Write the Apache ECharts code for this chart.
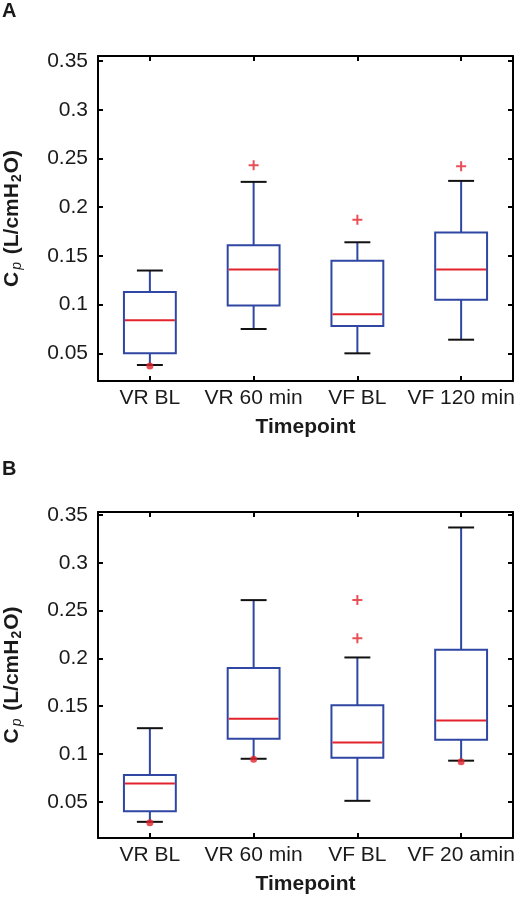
<!DOCTYPE html>
<html>
<head>
<meta charset="utf-8">
<script src="https://cdn.jsdelivr.net/npm/echarts@6/dist/echarts.min.js"></script>
<style>
html,body{margin:0;padding:0;background:#fff;}
#chart{width:519px;height:900px;}
</style>
</head>
<body>
<div id="chart"></div>
<script>
// ---- data ----
var categoriesA = ['VR BL', 'VR 60 min', 'VF BL', 'VF 120 min'];
var categoriesB = ['VR BL', 'VR 60 min', 'VF BL', 'VF 20 amin'];
var yTicks = [0.05, 0.1, 0.15, 0.2, 0.25, 0.3, 0.35];

// panel A box statistics (lower whisker, Q1, median, Q3, upper whisker)
var lowA  = [0.038, 0.075, 0.050, 0.064];
var q1A   = [0.050, 0.099, 0.078, 0.105];
var medA  = [0.084, 0.136, 0.090, 0.136];
var q3A   = [0.113, 0.161, 0.145, 0.174];
var highA = [0.135, 0.226, 0.164, 0.227];
var outliersA = [[1, 0.243], [2, 0.187], [3, 0.242]];
var dotsA = [[0, 0.037]];

// panel B box statistics
var lowB  = [0.029, 0.095, 0.051, 0.093];
var q1B   = [0.040, 0.116, 0.096, 0.115];
var medB  = [0.069, 0.137, 0.112, 0.135];
var q3B   = [0.078, 0.190, 0.151, 0.209];
var highB = [0.127, 0.261, 0.201, 0.337];
var outliersB = [[2, 0.261], [2, 0.221]];
var dotsB = [[0, 0.028], [1, 0.0945], [3, 0.092]];

// ---- styles ----
var FONT = 'Liberation Sans, Arial, sans-serif';
var BLUE = '#2f47a2';
var RED = '#e3232c';
var BLACK = '#111111';
var TXT = '#1a1a1a';

function boxRows(low, q1, med, q3, high) {
  return low.map(function (v, i) { return [i, low[i], q1[i], med[i], q3[i], high[i]]; });
}

function renderBox(params, api) {
  var x = api.value(0);
  var pLow = api.coord([x, api.value(1)]);
  var pQ1 = api.coord([x, api.value(2)]);
  var pMed = api.coord([x, api.value(3)]);
  var pQ3 = api.coord([x, api.value(4)]);
  var pHigh = api.coord([x, api.value(5)]);
  var band = api.size([1, 0])[0];
  var bw = band * 0.5, cw = band * 0.25;
  var cx = pMed[0];
  return {
    type: 'group',
    children: [
      {type: 'line', shape: {x1: cx, y1: pQ3[1], x2: cx, y2: pHigh[1]}, style: {stroke: BLUE, lineWidth: 2}},
      {type: 'line', shape: {x1: cx, y1: pLow[1], x2: cx, y2: pQ1[1]}, style: {stroke: BLUE, lineWidth: 2}},
      {type: 'line', shape: {x1: cx - cw / 2, y1: pHigh[1], x2: cx + cw / 2, y2: pHigh[1]}, style: {stroke: BLACK, lineWidth: 2}},
      {type: 'line', shape: {x1: cx - cw / 2, y1: pLow[1], x2: cx + cw / 2, y2: pLow[1]}, style: {stroke: BLACK, lineWidth: 2}},
      {type: 'rect', shape: {x: cx - bw / 2, y: pQ3[1], width: bw, height: pQ1[1] - pQ3[1]}, style: {fill: '#fff', stroke: BLUE, lineWidth: 2}},
      {type: 'line', shape: {x1: cx - bw / 2 + 1, y1: pMed[1], x2: cx + bw / 2 - 1, y2: pMed[1]}, style: {stroke: RED, lineWidth: 2}}
    ]
  };
}

var PLUS = 'path://M4,0h2v4h4v2h-4v4h-2v-4h-4v-2h4z';

function xAxes(cats, gi) {
  var common = {
    gridIndex: gi, type: 'category', data: cats,
    axisLine: {show: true, lineStyle: {color: '#000', width: 2}},
    axisTick: {show: true, inside: true, alignWithLabel: true, interval: 0, length: 5, lineStyle: {color: '#000', width: 2}},
    splitLine: {show: false}
  };
  var bottom = Object.assign({}, common, {
    position: 'bottom',
    axisLabel: {interval: 0, fontSize: 21, color: TXT, margin: 7, fontFamily: FONT},
    name: 'Timepoint', nameLocation: 'middle', nameGap: 36,
    nameTextStyle: {fontSize: 21, fontWeight: 'bold', color: TXT, fontFamily: FONT}
  });
  var top = Object.assign({}, common, {position: 'top', axisLabel: {show: false}});
  return [bottom, top];
}

function yAxes(gi, mn, mx) {
  var common = {
    gridIndex: gi, type: 'value', min: mn, max: mx,
    splitLine: {show: false},
    axisLine: {show: true, lineStyle: {color: '#000', width: 2}},
    axisTick: {show: true, inside: true, length: 5, customValues: yTicks, lineStyle: {color: '#000', width: 2}}
  };
  var left = Object.assign({}, common, {
    position: 'left',
    axisLabel: {customValues: yTicks, fontSize: 21, color: TXT, margin: 10, fontFamily: FONT},
    name: '{c|C}{p|p}{n| (L/cmH}{s|2}{n|O)}',
    nameLocation: 'middle', nameRotate: 90, nameGap: 74,
    nameTextStyle: {
      color: TXT, fontFamily: FONT,
      rich: {
        c: {fontSize: 21, fontWeight: 'bold', color: TXT, fontFamily: FONT},
        p: {fontSize: 14, fontStyle: 'italic', color: TXT, fontFamily: FONT, padding: [10, 2, 0, 2]},
        n: {fontSize: 21, fontWeight: 'bold', color: TXT, fontFamily: FONT},
        s: {fontSize: 14, fontWeight: 'bold', color: TXT, fontFamily: FONT, padding: [10, 1, 0, 1]}
      }
    }
  });
  var right = Object.assign({}, common, {position: 'right', axisLabel: {show: false}});
  return [left, right];
}

var chart = echarts.init(document.getElementById('chart'), null, {renderer: 'canvas'});
var xa = xAxes(categoriesA, 0), xb = xAxes(categoriesB, 1);
var ya = yAxes(0, 0.0216, 0.3552), yb = yAxes(1, 0.0121, 0.3532);

chart.setOption({
  animation: false,
  backgroundColor: '#fff',
  textStyle: {fontFamily: FONT},
  graphic: [
    {type: 'text', left: 2, top: 1, style: {text: 'A', fontSize: 20, fontWeight: 'bold', fill: TXT, fontFamily: FONT}},
    {type: 'text', left: 2, top: 459, style: {text: 'B', fontSize: 20, fontWeight: 'bold', fill: TXT, fontFamily: FONT}}
  ],
  grid: [
    {left: 98, top: 56, width: 415, height: 325, containLabel: false, outerBoundsMode: 'none'},
    {left: 98, top: 512, width: 415, height: 326, containLabel: false, outerBoundsMode: 'none'}
  ],
  xAxis: [xa[0], xa[1], xb[0], xb[1]],
  yAxis: [ya[0], ya[1], yb[0], yb[1]],
  series: [
    {type: 'custom', xAxisIndex: 0, yAxisIndex: 0, renderItem: renderBox,
     encode: {x: 0, y: [1, 2, 3, 4, 5]}, data: boxRows(lowA, q1A, medA, q3A, highA), z: 2},
    {type: 'scatter', xAxisIndex: 0, yAxisIndex: 0, data: outliersA, symbol: PLUS, symbolSize: 10,
     itemStyle: {color: RED}, z: 3},
    {type: 'scatter', xAxisIndex: 0, yAxisIndex: 0, data: dotsA, symbol: 'circle', symbolSize: 7,
     itemStyle: {color: RED}, z: 4},
    {type: 'custom', xAxisIndex: 2, yAxisIndex: 2, renderItem: renderBox,
     encode: {x: 0, y: [1, 2, 3, 4, 5]}, data: boxRows(lowB, q1B, medB, q3B, highB), z: 2},
    {type: 'scatter', xAxisIndex: 2, yAxisIndex: 2, data: outliersB, symbol: PLUS, symbolSize: 10,
     itemStyle: {color: RED}, z: 3},
    {type: 'scatter', xAxisIndex: 2, yAxisIndex: 2, data: dotsB, symbol: 'circle', symbolSize: 7,
     itemStyle: {color: RED}, z: 4}
  ]
});
</script>
</body>
</html>
